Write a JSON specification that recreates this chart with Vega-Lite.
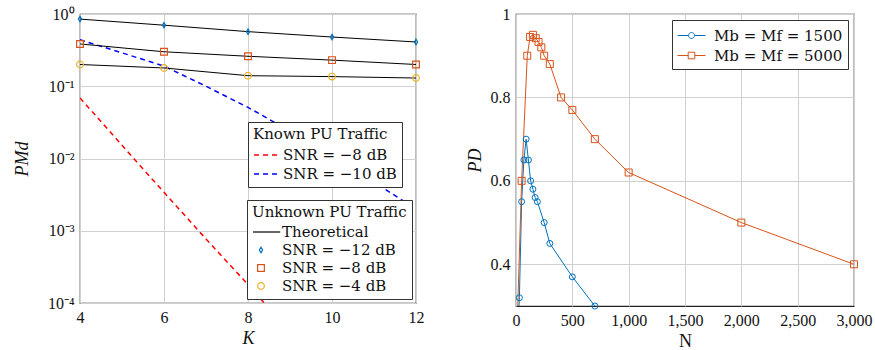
{
  "$schema": "https://vega.github.io/schema/vega-lite/v6.json",
  "background": "white",
  "padding": {"left": 12, "top": 5, "right": 5, "bottom": 5},
  "config": {
    "font": "Liberation Serif",
    "view": {"stroke": "#222222", "strokeWidth": 1.2},
    "axis": {
      "labelFont": "Liberation Serif", "labelFontSize": 16, "labelColor": "#111111",
      "titleFont": "Liberation Serif", "titleFontSize": 18, "titleFontWeight": "normal", "titleColor": "#111111",
      "gridColor": "#d0d0d0", "gridWidth": 1, "domain": false, "ticks": false, "labelPadding": 6,
      "labelFlush": false, "labelOverlap": false
    },
    "legend": {
      "labelFont": "DejaVu Serif", "labelFontSize": 15, "labelColor": "#111111",
      "titleFont": "DejaVu Serif", "titleFontSize": 15, "titleFontWeight": "normal", "titleColor": "#111111",
      "strokeColor": "#333333", "fillColor": "white", "padding": 5, "rowPadding": 1, "titlePadding": 3,
      "labelLimit": 300, "titleLimit": 300, "cornerRadius": 0
    },
    "concat": {"spacing": 40}
  },
  "resolve": {
    "scale": {"color": "independent", "shape": "independent", "stroke": "independent", "x": "independent", "y": "independent"},
    "legend": {"color": "independent", "shape": "independent", "stroke": "independent"}
  },
  "datasets": {
    "unknown": [
      {"series": "SNR = −12 dB", "K": 4, "P": 0.85},
      {"series": "SNR = −12 dB", "K": 6, "P": 0.70},
      {"series": "SNR = −12 dB", "K": 8, "P": 0.57},
      {"series": "SNR = −12 dB", "K": 10, "P": 0.48},
      {"series": "SNR = −12 dB", "K": 12, "P": 0.41},
      {"series": "SNR = −8 dB", "K": 4, "P": 0.385},
      {"series": "SNR = −8 dB", "K": 6, "P": 0.30},
      {"series": "SNR = −8 dB", "K": 8, "P": 0.26},
      {"series": "SNR = −8 dB", "K": 10, "P": 0.23},
      {"series": "SNR = −8 dB", "K": 12, "P": 0.20},
      {"series": "SNR = −4 dB", "K": 4, "P": 0.20},
      {"series": "SNR = −4 dB", "K": 6, "P": 0.179},
      {"series": "SNR = −4 dB", "K": 8, "P": 0.14},
      {"series": "SNR = −4 dB", "K": 10, "P": 0.136},
      {"series": "SNR = −4 dB", "K": 12, "P": 0.13}
    ],
    "known": [
      {"series": "SNR = −8 dB", "K": 4, "P": 0.069},
      {"series": "SNR = −8 dB", "K": 5, "P": 0.0152},
      {"series": "SNR = −8 dB", "K": 6, "P": 0.0034},
      {"series": "SNR = −8 dB", "K": 7, "P": 0.00077},
      {"series": "SNR = −8 dB", "K": 8, "P": 0.00018},
      {"series": "SNR = −8 dB", "K": 9, "P": 0.00004},
      {"series": "SNR = −10 dB", "K": 4, "P": 0.44},
      {"series": "SNR = −10 dB", "K": 5, "P": 0.29},
      {"series": "SNR = −10 dB", "K": 6, "P": 0.19},
      {"series": "SNR = −10 dB", "K": 7, "P": 0.10},
      {"series": "SNR = −10 dB", "K": 8, "P": 0.051},
      {"series": "SNR = −10 dB", "K": 9, "P": 0.024},
      {"series": "SNR = −10 dB", "K": 10, "P": 0.0107},
      {"series": "SNR = −10 dB", "K": 11, "P": 0.0047},
      {"series": "SNR = −10 dB", "K": 12, "P": 0.002}
    ],
    "right": [
      {"series": "Mb = Mf = 1500", "N": 10, "P": 0.2},
      {"series": "Mb = Mf = 1500", "N": 30, "P": 0.32},
      {"series": "Mb = Mf = 1500", "N": 50, "P": 0.55},
      {"series": "Mb = Mf = 1500", "N": 70, "P": 0.65},
      {"series": "Mb = Mf = 1500", "N": 90, "P": 0.70},
      {"series": "Mb = Mf = 1500", "N": 110, "P": 0.65},
      {"series": "Mb = Mf = 1500", "N": 130, "P": 0.60},
      {"series": "Mb = Mf = 1500", "N": 150, "P": 0.58},
      {"series": "Mb = Mf = 1500", "N": 170, "P": 0.56},
      {"series": "Mb = Mf = 1500", "N": 190, "P": 0.55},
      {"series": "Mb = Mf = 1500", "N": 250, "P": 0.50},
      {"series": "Mb = Mf = 1500", "N": 300, "P": 0.45},
      {"series": "Mb = Mf = 1500", "N": 500, "P": 0.37},
      {"series": "Mb = Mf = 1500", "N": 700, "P": 0.30},
      {"series": "Mb = Mf = 5000", "N": 10, "P": 0.25},
      {"series": "Mb = Mf = 5000", "N": 50, "P": 0.60},
      {"series": "Mb = Mf = 5000", "N": 100, "P": 0.90},
      {"series": "Mb = Mf = 5000", "N": 125, "P": 0.945},
      {"series": "Mb = Mf = 5000", "N": 150, "P": 0.95},
      {"series": "Mb = Mf = 5000", "N": 175, "P": 0.942},
      {"series": "Mb = Mf = 5000", "N": 200, "P": 0.933},
      {"series": "Mb = Mf = 5000", "N": 225, "P": 0.92},
      {"series": "Mb = Mf = 5000", "N": 250, "P": 0.90},
      {"series": "Mb = Mf = 5000", "N": 300, "P": 0.88},
      {"series": "Mb = Mf = 5000", "N": 400, "P": 0.80},
      {"series": "Mb = Mf = 5000", "N": 500, "P": 0.77},
      {"series": "Mb = Mf = 5000", "N": 700, "P": 0.70},
      {"series": "Mb = Mf = 5000", "N": 1000, "P": 0.62},
      {"series": "Mb = Mf = 5000", "N": 2000, "P": 0.50},
      {"series": "Mb = Mf = 5000", "N": 3000, "P": 0.40}
    ]
  },
  "hconcat": [
    {
      "width": 336,
      "height": 289,
      "encoding": {
        "x": {"field": "K", "type": "quantitative", "scale": {"domain": [4, 12], "nice": false},
              "axis": {"values": [4, 6, 8, 10, 12], "title": "K", "titleFontStyle": "italic", "titlePadding": 4, "grid": true}},
        "y": {"field": "P", "type": "quantitative", "scale": {"type": "log", "domain": [0.0001, 1], "nice": false},
              "axis": {"values": [0.0001, 0.001, 0.01, 0.1, 1], "title": "PMd", "titleFontStyle": "italic", "titlePadding": 16, "grid": true,
                       "labelExpr": "datum.value >= 0.99 ? '10⁰' : datum.value >= 0.099 ? '10⁻¹' : datum.value >= 0.0099 ? '10⁻²' : datum.value >= 0.00099 ? '10⁻³' : '10⁻⁴'"}}
      },
      "layer": [
        {
          "data": {"name": "known"},
          "mark": {"type": "line", "strokeDash": [5, 4], "strokeWidth": 1.5, "clip": true},
          "encoding": {
            "stroke": {"field": "series", "type": "nominal",
              "scale": {"domain": ["SNR = −8 dB", "SNR = −10 dB"], "range": ["#ff0000", "#0000ff"]},
              "legend": {"title": "Known PU Traffic", "orient": "none", "legendX": 168, "legendY": 108,
                         "symbolType": "M-1,0H2", "symbolSize": 324, "symbolDash": [5, 4], "symbolStrokeWidth": 1.5, "labelOffset": 10}}
          }
        },
        {
          "data": {"name": "unknown"},
          "mark": {"type": "line", "color": "black", "strokeWidth": 1},
          "encoding": {"detail": {"field": "series"}}
        },
        {
          "data": {"name": "unknown"},
          "mark": {"type": "point", "filled": false, "size": 256, "strokeWidth": 1.2, "opacity": 1},
          "encoding": {
            "color": {"field": "series", "type": "nominal",
              "scale": {"domain": ["Theoretical", "SNR = −12 dB", "SNR = −8 dB", "SNR = −4 dB"],
                        "range": ["#000000", "#0072BD", "#D95319", "#EDB120"]},
              "legend": {"title": "Unknown PU Traffic", "orient": "none", "legendX": 167, "legendY": 186,
                         "symbolSize": 256, "symbolStrokeWidth": 1.2, "labelOffset": 12}},
            "shape": {"field": "series", "type": "nominal",
              "scale": {"domain": ["Theoretical", "SNR = −12 dB", "SNR = −8 dB", "SNR = −4 dB"],
                        "range": ["M-1,0H2.4",
                                  "M0,-0.34L0.2,0L0,0.34L-0.2,0Z",
                                  "M-0.42,-0.42H0.42V0.42H-0.42Z",
                                  "M0.42,0A0.42,0.42,0,1,1,-0.42,0A0.42,0.42,0,1,1,0.42,0Z"]}}
          }
        }
      ]
    },
    {
      "width": 338,
      "height": 292,
      "data": {"name": "right"},
      "encoding": {
        "x": {"field": "N", "type": "quantitative", "scale": {"domain": [0, 3000], "nice": false},
              "axis": {"values": [0, 500, 1000, 1500, 2000, 2500, 3000], "format": ",.0f", "title": "N", "titlePadding": 4, "grid": true}},
        "y": {"field": "P", "type": "quantitative", "scale": {"domain": [0.3, 1], "nice": false, "zero": false},
              "axis": {"values": [0.4, 0.6, 0.8, 1], "format": "~g", "title": "PD", "titleFontStyle": "italic", "titlePadding": 6, "grid": true}}
      },
      "layer": [
        {
          "mark": {"type": "line", "strokeWidth": 1, "clip": true},
          "encoding": {
            "color": {"field": "series", "type": "nominal",
              "scale": {"domain": ["Mb = Mf = 1500", "Mb = Mf = 5000"], "range": ["#0072BD", "#D95319"]},
              "legend": {"title": null, "orient": "top-right", "offset": 6, "symbolSize": 400, "symbolStrokeWidth": 1, "labelOffset": 16, "rowPadding": 1,
                         "encode": {"symbols": {"update": {
                           "shape": {"signal": "datum.value == 'Mb = Mf = 1500' ? 'M-1,0H0.1M0.7,0H1.8M0.7,0A0.3,0.3,0,1,1,0.1,0A0.3,0.3,0,1,1,0.7,0' : 'M-1,0H0.07M0.73,0H1.8M0.07,-0.33H0.73V0.33H0.07Z'"},
                           "fill": {"value": "transparent"}}}}}}
          }
        },
        {
          "transform": [{"filter": "datum.series == 'Mb = Mf = 1500' && datum.P >= 0.3"}],
          "mark": {"type": "point", "shape": "circle", "filled": false, "size": 36, "strokeWidth": 1, "color": "#0072BD", "opacity": 1}
        },
        {
          "transform": [{"filter": "datum.series == 'Mb = Mf = 5000' && datum.P >= 0.3"}],
          "mark": {"type": "point", "shape": "square", "filled": false, "size": 49, "strokeWidth": 1, "color": "#D95319", "opacity": 1}
        }
      ]
    }
  ]
}
